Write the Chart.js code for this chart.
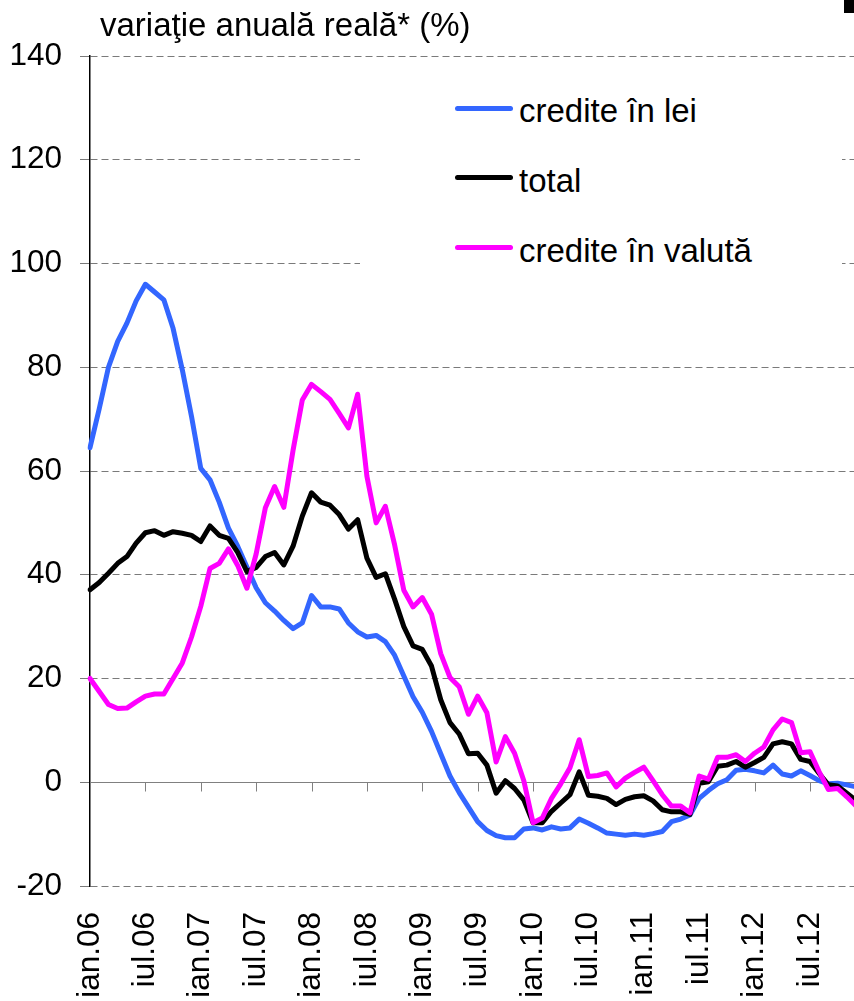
<!DOCTYPE html>
<html>
<head>
<meta charset="utf-8">
<script src="https://cdn.jsdelivr.net/npm/chart.js@4.4.1/dist/chart.umd.min.js"></script>
<style>
html,body{margin:0;padding:0;overflow:hidden;background:#fff;width:854px;height:1001px;}
#wrap{position:absolute;left:0;top:0;width:880px;height:1001px;}
#title{position:absolute;left:100px;top:8px;font:33px/33px "Liberation Sans",Arial,sans-serif;color:#000;white-space:nowrap;}
#legend{position:absolute;left:360px;top:80px;width:482px;height:215px;background:#fff;}
.sw{position:absolute;left:95px;width:58px;height:5px;border-radius:3px;}
.lt{position:absolute;left:159px;font:33px/33px "Liberation Sans",Arial,sans-serif;color:#000;white-space:nowrap;}
#corner{position:absolute;left:844px;top:0;width:10px;height:13px;background:#000;}
</style>
</head>
<body>
<div id="wrap"><canvas id="c" width="880" height="1001"></canvas></div>
<div id="title">variaţie anuală reală* (%)</div>
<div id="legend"></div>
<div id="corner"></div>
<script>
// ---- data ----
const monthNames = ['ian','feb','mar','apr','mai','iun','iul','aug','sep','oct','noi','dec'];
const years = ['06','07','08','09','10','11','12'];
const categories = [];
years.forEach(y => monthNames.forEach(m => categories.push(m + '.' + y)));

const seriesNames = ['credite în lei', 'total', 'credite în valută'];
const seriesColors = ['#3366FF', '#000000', '#FF00FF'];

const creditLei = [
  64.5,72,80,85,88.5,92.8,96,94.5,93,87.5,79.5,70.5,
  60.5,58.3,54,49,45.5,41.5,37.5,34.6,33,31.2,29.6,30.7,
  36,33.8,33.8,33.4,30.7,29,28,28.3,27.1,24.5,20.5,16.5,
  13.5,9.8,5.5,1.2,-2,-4.8,-7.6,-9.3,-10.3,-10.7,-10.7,-9,
  -8.8,-9.2,-8.6,-9,-8.8,-7.1,-7.9,-8.8,-9.8,-10,-10.2,-10,
  -10.2,-9.9,-9.5,-7.6,-7.1,-6.3,-3.1,-1.6,-0.3,0.5,2.3,2.5,
  2.2,1.8,3.3,1.6,1.2,2.2,1.3,0.3,-0.3,-0.2,-0.5,-0.9
];
const creditTotal = [
  37.1,38.5,40.3,42.2,43.5,46.1,48.1,48.5,47.6,48.3,48,47.6,
  46.4,49.4,47.6,47,44.3,40.6,41.4,43.5,44.3,41.9,45.5,51.3,
  55.8,54,53.4,51.6,48.8,50.6,43.2,39.5,40.2,35.3,30,26.3,
  25.6,22.4,15.9,11.5,9.3,5.5,5.6,3.3,-2.1,0.3,-1.2,-3.4,
  -7.8,-7.8,-5.6,-4,-2.4,2,-2.5,-2.7,-3.1,-4.3,-3.3,-2.8,
  -2.6,-3.6,-5.3,-5.7,-5.7,-6.2,-0.2,0.1,3.1,3.3,4,2.9,
  3.8,4.8,7.4,7.8,7.4,4.4,4,1.7,-0.5,-0.7,-2.1,-3.5
];
const creditValuta = [
  20,17.5,15,14.2,14.3,15.5,16.6,17,17,20,23,28,
  33.9,41.2,42.2,45,41.8,37.4,44,52.9,57,53,64,73.7,
  76.7,75.3,73.8,71.1,68.3,74.8,59,50,53.2,45.8,37,33.8,
  35.6,32.4,24.8,20.2,18.4,13.1,16.6,13.4,3.9,8.8,5.6,0.3,
  -7.8,-6.9,-3.1,-0.3,2.8,8.2,1.1,1.3,1.8,-0.9,0.8,1.9,
  2.9,0.3,-2.4,-4.6,-4.6,-5.9,1.2,0.6,4.8,4.8,5.3,4,
  5.6,6.8,10.1,12.2,11.5,5.7,5.9,2,-1.4,-1.2,-2.8,-4.6
];
const yMin = -20, yMax = 140, yStep = 20;

// ---- legend (HTML) ----
const legendRows = [{top:28, base:42},{top:97, base:112},{top:167, base:182}];
const legendEl = document.getElementById('legend');
seriesNames.forEach((n, i) => {
  const sw = document.createElement('div');
  sw.className = 'sw';
  sw.style.top = (legendRows[i].top - 2.5) + 'px';
  sw.style.background = seriesColors[i];
  legendEl.appendChild(sw);
  const t = document.createElement('div');
  t.className = 'lt';
  t.style.top = (legendRows[i].base - 28) + 'px';
  t.textContent = n;
  legendEl.appendChild(t);
});

// ---- zero line + category ticks ----
const zeroLine = {
  id: 'zeroLine',
  beforeDatasetsDraw(chart) {
    const {ctx, chartArea: a, scales: {x, y}} = chart;
    const y0 = Math.round(y.getPixelForValue(0)) + 0.5;
    ctx.save();
    ctx.strokeStyle = '#808080';
    ctx.lineWidth = 1;
    ctx.beginPath();
    ctx.moveTo(a.left, y0);
    ctx.lineTo(a.right + 20, y0);
    categories.forEach((c, i) => {
      if (i > 0 && i % 6 === 0) {
        const px = Math.round(x.getPixelForValue(i)) + 0.5;
        ctx.moveTo(px, y0);
        ctx.lineTo(px, y0 + 9);
      }
    });
    ctx.stroke();
    ctx.restore();
  }
};

const font = {family: '"Liberation Sans", Arial, sans-serif', size: 31.5};
const mk = (label, data, color, order) => ({
  label, data, borderColor: color, backgroundColor: color, borderWidth: 5,
  pointRadius: 0, tension: 0, borderJoinStyle: 'round', borderCapStyle: 'round',
  fill: false, order
});

new Chart(document.getElementById('c'), {
  type: 'line',
  data: {
    labels: categories,
    datasets: [
      mk(seriesNames[0], creditLei, seriesColors[0], 2),
      mk(seriesNames[1], creditTotal, seriesColors[1], 1),
      mk(seriesNames[2], creditValuta, seriesColors[2], 0)
    ]
  },
  options: {
    responsive: false,
    animation: false,
    events: [],
    layout: {padding: {left: 0, top: 56, right: 23.9, bottom: 0}},
    plugins: {legend: {display: false}, tooltip: {enabled: false}, title: {display: false}},
    scales: {
      x: {
        type: 'category',
        offset: false,
        grid: {display: false, drawTicks: false},
        border: {display: false},
        ticks: {
          autoSkip: false, maxRotation: 90, minRotation: 90, padding: 26,
          color: '#000', font,
          callback: (v, i) => (i % 6 === 0 ? categories[i] : '')
        },
        afterFit: s => { s.height = 115; s.paddingLeft = 0; s.paddingRight = 0; }
      },
      y: {
        min: yMin, max: yMax,
        ticks: {stepSize: yStep, color: '#000', font, padding: 18},
        grid: {
          color: c => (c.tick && c.tick.value === 0 ? 'rgba(0,0,0,0)' : '#7a7a7a'),
          lineWidth: 1, drawTicks: true, tickLength: 10, tickColor: '#7a7a7a'
        },
        border: {display: true, color: '#000', width: 1.5, dash: [7, 4]},
        afterFit: s => { s.width = 90; }
      }
    }
  },
  plugins: [zeroLine]
});
</script>
</body>
</html>
